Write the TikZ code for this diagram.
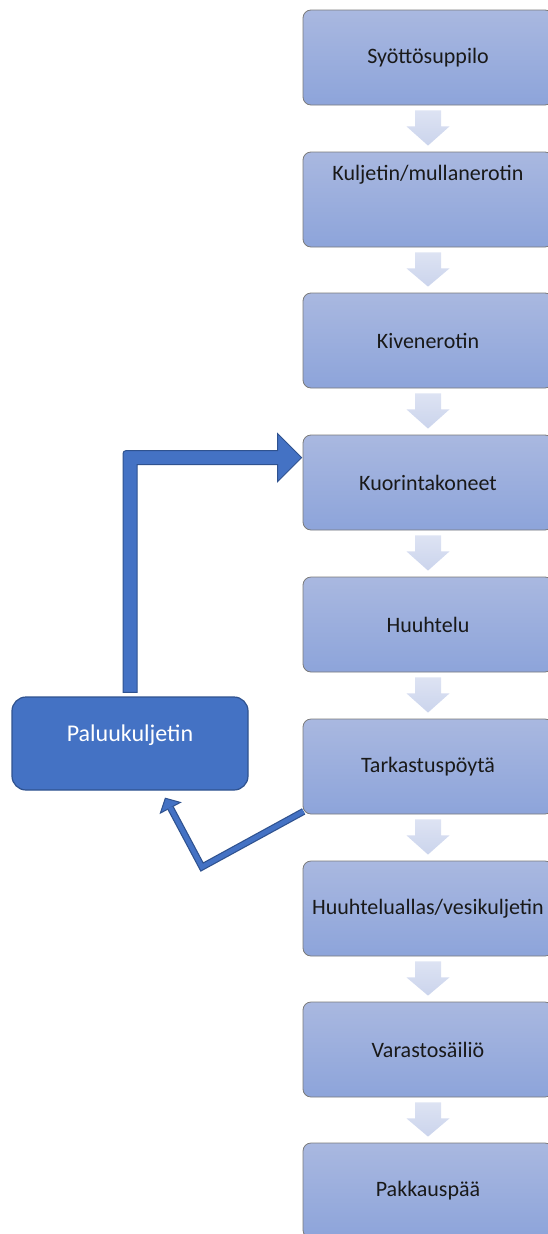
\documentclass[tikz,border=0pt]{standalone}
\usepackage{fontspec}
\setmainfont{Carlito}
\usetikzlibrary{calc,arrows.meta}
\definecolor{boxtop}{HTML}{A9B8E0}
\definecolor{boxbot}{HTML}{8DA4DA}
\definecolor{boxline}{HTML}{7A7A7A}
\definecolor{arrtop}{HTML}{DDE3F3}
\definecolor{arrbot}{HTML}{CBD4EC}
\definecolor{bmain}{HTML}{4472C4}
\definecolor{bdark}{HTML}{2F528F}
\begin{document}
\begin{tikzpicture}[x=1pt,y=-1pt,
  procbox/.style={rectangle, rounded corners=8pt, draw=boxline, line width=0.8pt,
    top color=boxtop, bottom color=boxbot, minimum width=250pt, minimum height=95pt,
    inner sep=0pt, font=\fontsize{22}{26}\selectfont, text=black!90},
  boxlabel/.style={inner sep=0pt, font=\fontsize{22}{26}\selectfont, text=black!90},
  palbox/.style={rectangle, rounded corners=14pt, draw=bdark, line width=1.2pt,
    fill=bmain, minimum width=236pt, minimum height=93pt, inner sep=0pt},
  pallabel/.style={inner sep=0pt, font=\fontsize{24}{28}\selectfont, text=white},
  flowarrow/.style={top color=arrtop, bottom color=arrbot},
  bluearrow/.style={fill=bmain, draw=bdark, line width=1pt}
]
\clip (0,0) rectangle (548,1234);
\useasboundingbox (0,0) rectangle (548,1234);

\node[procbox] (b1) at (428,57.5) {Syöttösuppilo};
\node[procbox] (b2) at (428,199.5) {};
\node[boxlabel] (t2) at ([yshift=25pt]b2.center) {Kuljetin/mullanerotin};
\node[procbox] (b3) at (428,340.5) {Kivenerotin};
\node[procbox] (b4) at (428,482.5) {Kuorintakoneet};
\node[procbox] (b5) at (428,624.5) {Huuhtelu};
\node[procbox] (b6) at (428,766.5) {Tarkastuspöytä};
\node[procbox] (b7) at (428,908.5) {Huuhteluallas/vesikuljetin};
\node[procbox] (b8) at (428,1049.5) {Varastosäiliö};
\node[procbox] (b9) at (428,1190.5) {Pakkauspää};

\foreach \a/\b in {b1/b2,b2/b3,b3/b4,b4/b5,b5/b6,b6/b7,b7/b8,b8/b9}{
  \shade[flowarrow] ($(\a.south)+(-13,5)$) -- ($(\a.south)+(13,5)$) -- ($(\a.south)+(13,21)$)
    -- ($(\a.south)+(21.5,21)$) -- ($(\b.north)+(0,-6)$) -- ($(\a.south)+(-21.5,21)$)
    -- ($(\a.south)+(-13,21)$) -- cycle;
}

\node[palbox] (pal) at (130,743.5) {};
\node[pallabel] (tp) at ([yshift=8.5pt]pal.center) {Paluukuljetin};

% feedback arrow up to Kuorintakoneet
\coordinate (fbase) at ($(pal.north)+(0,-4)$);
\coordinate (ftip) at ($(b4.north west)+(-1,23)$);
\coordinate (sL) at ($(fbase)+(-7,0)$);
\coordinate (sR) at ($(fbase)+(7,0)$);
\coordinate (hU) at ($(ftip)+(-24,-24)$);
\coordinate (hL) at ($(ftip)+(-24,24)$);
\coordinate (hsU) at ($(ftip)+(-24,-7)$);
\coordinate (hsL) at ($(ftip)+(-24,7)$);
\filldraw[bluearrow] (sL) [rounded corners=3pt] -- (sL |- hsU) [sharp corners] -- (hsU) -- (hU) -- (ftip)
  -- (hL) -- (hsL) -- (sR |- hsL) -- (sR) -- cycle;

% return arrow from Tarkastuspöytä
\coordinate (rs) at ($(b6.south west)+(1,-3)$);
\coordinate (rv) at (202,867);
\coordinate (rt) at ($(pal.south)+(35,7)$);
\draw[line width=7pt, bdark, -{Triangle[width=25pt,length=12pt,line width=1pt,fill=bmain]}] (rs) -- (rv) -- (rt);
\draw[line width=4.6pt, bmain, shorten >=11pt] (rs) -- (rv) -- (rt);
\end{tikzpicture}
\end{document}
